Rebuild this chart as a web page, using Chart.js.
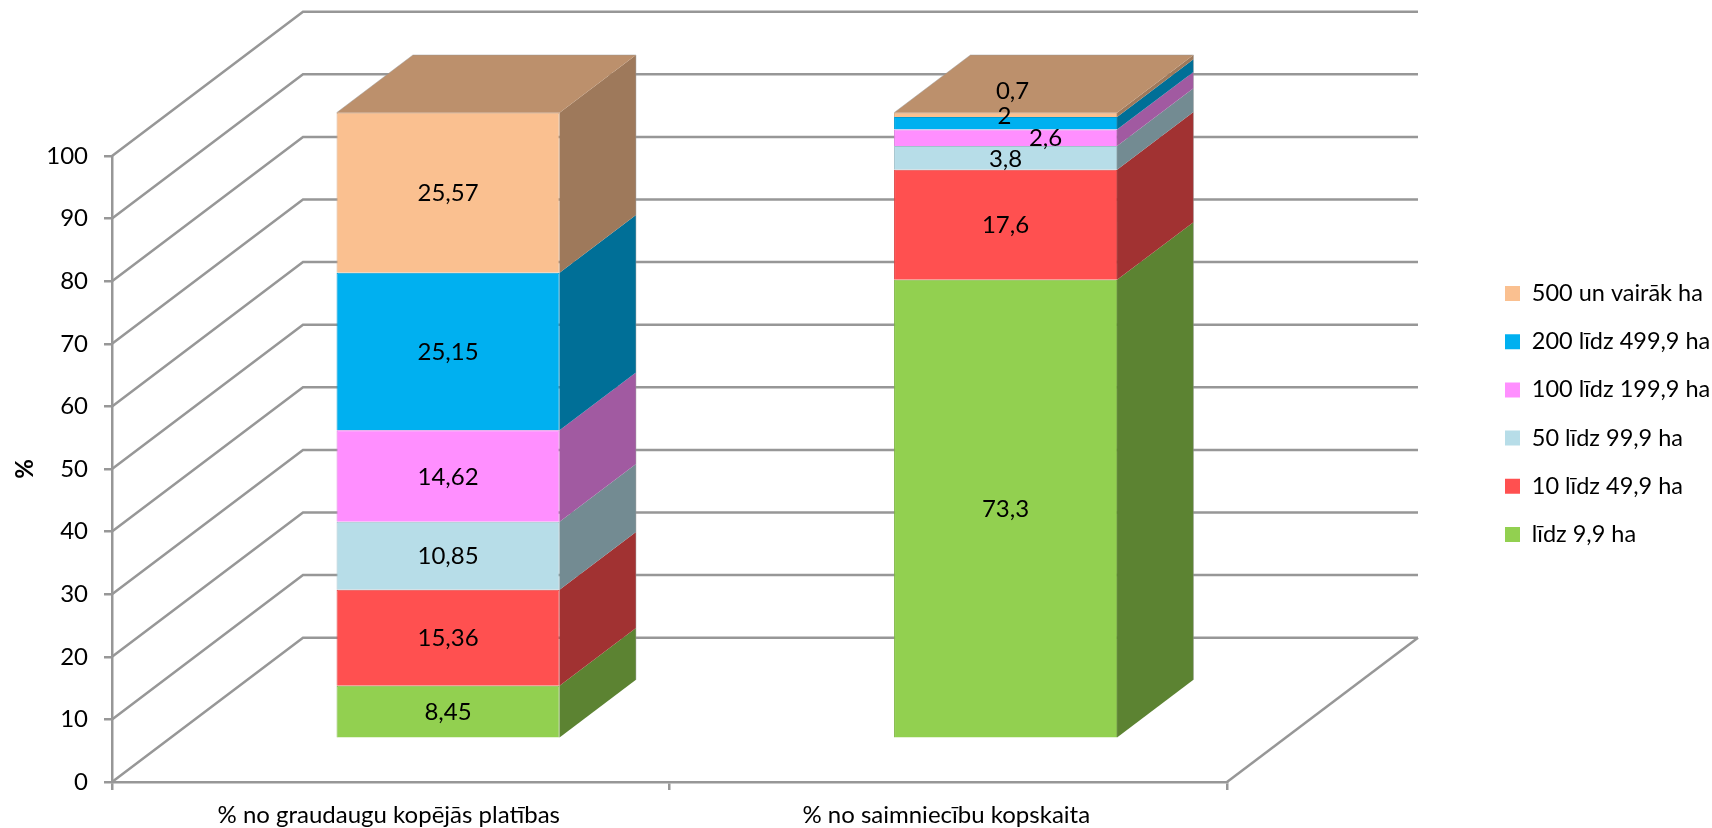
<!DOCTYPE html>
<html>
<head>
<meta charset="utf-8">
<style>
    html, body { margin: 0; padding: 0; background: #fff; }
    canvas { display: block; }
</style>
<script src="https://cdn.jsdelivr.net/npm/chart.js@4/dist/chart.umd.min.js"></script>
</head>
<body>
<canvas id="farmChart" width="1712" height="828"></canvas>
<script>
var categories = ['% no graudaugu kopējās platības', '% no saimniecību kopskaita'];
var seriesNames = ['līdz 9,9 ha', '10 līdz 49,9 ha', '50 līdz 99,9 ha', '100 līdz 199,9 ha', '200 līdz 499,9 ha', '500 un vairāk ha'];
var upTo10 = [8.45, 73.3];
var from10 = [15.36, 17.6];
var from50 = [10.85, 3.8];
var from100 = [14.62, 2.6];
var from200 = [25.15, 2];
var from500 = [25.57, 0.7];
var seriesValues = [upTo10, from10, from50, from100, from200, from500];
var seriesColors = ['#92d050', '#ff5050', '#b7dde8', '#ff8fff', '#00b0f0', '#fac090'];

// 3D look: depth of the whole floor, the bars sit from 30% to 70% of it
var depthX = 191;
var depthY = -144.3;
var barFront = 0.3;
var barDepth = 0.4;
var lineColor = '#979797';
var lineWidth = 2.5;
var edgeColor = 'rgba(150,150,150,0.45)';
var fontSize = 24;
var legendFontSize = 23.5;

// labels moved by hand in the thin segments: "category:series": [x, y]
var labelNudge = { '1:3': [40, 0], '1:4': [-1, -8], '1:5': [7, -25] };

function shade(hex, f) {
    var n = parseInt(hex.slice(1), 16);
    return 'rgb(' + Math.round((n >> 16) * f) + ',' + Math.round(((n >> 8) & 255) * f) + ',' + Math.round((n & 255) * f) + ')';
}

function fillPoly(ctx, pts, color) {
    ctx.fillStyle = color;
    ctx.beginPath();
    ctx.moveTo(pts[0][0], pts[0][1]);
    for (var i = 1; i < pts.length; i++) ctx.lineTo(pts[i][0], pts[i][1]);
    ctx.closePath();
    ctx.fill();
}

var box3d = {
    id: 'box3d',
    afterLayout: function (chart) {
        // legend sits on its own, centred on the page height
        var legend = chart.legend;
        var pad = chart.options.plugins.legend.labels.padding;
        legend.left = 1505 - pad;
        legend.right = 1712;
        legend.top = 0;
        legend.bottom = 828;
    },
    beforeDatasetsDraw: function (chart) {
        var ctx = chart.ctx, x = chart.scales.x, y = chart.scales.y;
        ctx.save();
        ctx.strokeStyle = lineColor;
        ctx.lineWidth = lineWidth;
        y.ticks.forEach(function (t) {
            var py = y.getPixelForValue(t.value);
            ctx.beginPath();
            ctx.moveTo(x.left, py);
            ctx.lineTo(x.left + depthX, py + depthY);
            ctx.lineTo(x.right + depthX, py + depthY);
            ctx.stroke();
        });
        // right edge of the floor
        var floor = y.getPixelForValue(0);
        ctx.beginPath();
        ctx.moveTo(x.right, floor);
        ctx.lineTo(x.right + depthX, floor + depthY);
        ctx.stroke();
        ctx.restore();

        // front faces of the bars are pushed back onto the floor
        ctx.save();
        ctx.translate(depthX * barFront, depthY * barFront);
    },
    afterDatasetsDraw: function (chart) {
        var ctx = chart.ctx;
        var dx = depthX * barDepth, dy = depthY * barDepth;
        seriesValues.forEach(function (vals, s) {
            chart.getDatasetMeta(s).data.forEach(function (el) {
                var r = el.x + el.width / 2, l = el.x - el.width / 2;
                fillPoly(ctx, [[r, el.y], [r + dx, el.y + dy], [r + dx, el.base + dy], [r, el.base]], shade(seriesColors[s], 0.63));
                ctx.strokeStyle = edgeColor;
                ctx.lineWidth = 1;
                ctx.beginPath();
                ctx.moveTo(r + dx, el.y + dy);
                ctx.lineTo(r + dx, el.base + dy);
                ctx.stroke();
                if (s === seriesValues.length - 1) {
                    fillPoly(ctx, [[l, el.y], [l + dx, el.y + dy], [r + dx, el.y + dy], [r, el.y]], shade(seriesColors[s], 0.75));
                    ctx.beginPath();
                    ctx.moveTo(l, el.y);
                    ctx.lineTo(l + dx, el.y + dy);
                    ctx.lineTo(r + dx, el.y + dy);
                    ctx.stroke();
                }
            });
        });

        // value labels, decimal comma like the original
        ctx.fillStyle = '#000';
        ctx.font = fontSize + 'px Lato';
        ctx.textAlign = 'center';
        ctx.textBaseline = 'middle';
        seriesValues.forEach(function (vals, s) {
            chart.getDatasetMeta(s).data.forEach(function (el, c) {
                var nudge = labelNudge[c + ':' + s] || [0, 0];
                ctx.fillText(String(vals[c]).replace('.', ','), el.x + nudge[0], (el.y + el.base) / 2 + 1 + nudge[1]);
            });
        });
        ctx.restore();
    }
};

Chart.defaults.font.family = 'Lato';
Chart.defaults.font.size = fontSize;
Chart.defaults.color = '#000';

var farmChart = new Chart(document.getElementById('farmChart').getContext('2d'), {
    type: 'bar',
    plugins: [box3d],
    data: {
        labels: categories,
        datasets: seriesNames.map(function (name, i) {
            return {
                label: name,
                data: seriesValues[i],
                backgroundColor: seriesColors[i],
                borderColor: shade(seriesColors[i], 0.88),
                borderWidth: 1,
                barPercentage: 0.4,
                categoryPercentage: 1,
                clip: false
            };
        })
    },
    options: {
        responsive: false,
        animation: false,
        layout: { padding: { top: 156 } },
        plugins: {
            tooltip: { enabled: false },
            legend: {
                position: 'right',
                reverse: true,
                maxWidth: 200,
                labels: {
                    boxWidth: 15,
                    boxHeight: 15,
                    padding: 24.7,
                    color: '#000',
                    font: { size: legendFontSize },
                    generateLabels: function (chart) {
                        return Chart.defaults.plugins.legend.labels.generateLabels(chart).map(function (item) {
                            item.lineWidth = 0;
                            return item;
                        });
                    }
                }
            }
        },
        scales: {
            x: {
                stacked: true,
                afterFit: function (scale) { scale.height = 46; },
                border: { color: lineColor, width: lineWidth },
                grid: { drawOnChartArea: false, color: lineColor, lineWidth: lineWidth, tickLength: 8 },
                ticks: { padding: 11, maxRotation: 0, labelOffset: -2 }
            },
            y: {
                stacked: true,
                min: 0,
                max: 100,
                afterFit: function (scale) { scale.width = 112; },
                border: { color: lineColor, width: lineWidth },
                grid: { drawOnChartArea: false, color: lineColor, lineWidth: lineWidth, tickLength: 8 },
                ticks: { stepSize: 10, padding: 16 },
                title: { display: true, text: '%', font: { weight: 'bold', size: fontSize }, padding: { top: 11, bottom: 0 } }
            },
            // empty axis, only keeps room for the depth part between plot and legend
            spacer: {
                position: 'right',
                afterFit: function (scale) { scale.width = 285; },
                border: { display: false },
                grid: { display: false },
                ticks: { display: false }
            }
        }
    }
});
</script>
</body>
</html>
